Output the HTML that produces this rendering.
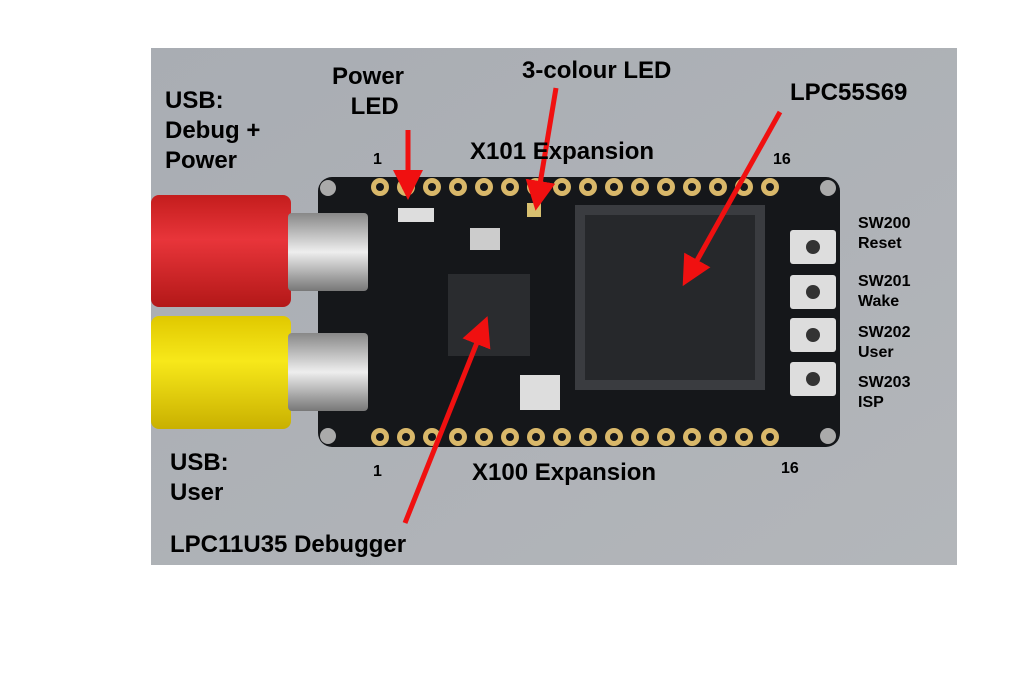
<!DOCTYPE html>
<html><head><style>
body{margin:0;width:1023px;height:691px;background:#fff;position:relative;overflow:hidden;font-family:"Liberation Sans",sans-serif}
.t{position:absolute;font-weight:bold;color:#000;line-height:1.25}
</style></head><body>
<svg width="1023" height="691" style="position:absolute;left:0;top:0">
<defs>
<linearGradient id="bg" x1="0" y1="0" x2="1" y2="1"><stop offset="0" stop-color="#a9adb3"/><stop offset="1" stop-color="#b3b6ba"/></linearGradient>
<linearGradient id="red" x1="0" y1="0" x2="0" y2="1"><stop offset="0" stop-color="#c41d1d"/><stop offset="0.4" stop-color="#e8353a"/><stop offset="1" stop-color="#b31818"/></linearGradient>
<linearGradient id="yel" x1="0" y1="0" x2="0" y2="1"><stop offset="0" stop-color="#e0c800"/><stop offset="0.4" stop-color="#f7e81a"/><stop offset="1" stop-color="#c9b000"/></linearGradient>
<linearGradient id="met" x1="0" y1="0" x2="0" y2="1"><stop offset="0" stop-color="#888"/><stop offset="0.5" stop-color="#eee"/><stop offset="1" stop-color="#777"/></linearGradient>
<marker id="ah" markerWidth="6" markerHeight="6" refX="3" refY="3" orient="auto"><path d="M0,0 L6,3 L0,6 Z" fill="#f01010"/></marker>
</defs>
<rect x="151" y="48" width="806" height="517" fill="url(#bg)"/>
<rect x="318" y="177" width="522" height="270" rx="14" fill="#15171a"/>
<circle cx="328" cy="188" r="8" fill="#aaa"/><circle cx="828" cy="188" r="8" fill="#aaa"/>
<circle cx="328" cy="436" r="8" fill="#aaa"/><circle cx="828" cy="436" r="8" fill="#aaa"/>
<g fill="#d9b86a">
<circle cx="380" cy="187" r="9"/><circle cx="406" cy="187" r="9"/><circle cx="432" cy="187" r="9"/><circle cx="458" cy="187" r="9"/><circle cx="484" cy="187" r="9"/><circle cx="510" cy="187" r="9"/><circle cx="536" cy="187" r="9"/><circle cx="562" cy="187" r="9"/><circle cx="588" cy="187" r="9"/><circle cx="614" cy="187" r="9"/><circle cx="640" cy="187" r="9"/><circle cx="666" cy="187" r="9"/><circle cx="692" cy="187" r="9"/><circle cx="718" cy="187" r="9"/><circle cx="744" cy="187" r="9"/><circle cx="770" cy="187" r="9"/>
<circle cx="380" cy="437" r="9"/><circle cx="406" cy="437" r="9"/><circle cx="432" cy="437" r="9"/><circle cx="458" cy="437" r="9"/><circle cx="484" cy="437" r="9"/><circle cx="510" cy="437" r="9"/><circle cx="536" cy="437" r="9"/><circle cx="562" cy="437" r="9"/><circle cx="588" cy="437" r="9"/><circle cx="614" cy="437" r="9"/><circle cx="640" cy="437" r="9"/><circle cx="666" cy="437" r="9"/><circle cx="692" cy="437" r="9"/><circle cx="718" cy="437" r="9"/><circle cx="744" cy="437" r="9"/><circle cx="770" cy="437" r="9"/>
</g>
<g fill="#15171a"><circle cx="380" cy="187" r="4"/><circle cx="406" cy="187" r="4"/><circle cx="432" cy="187" r="4"/><circle cx="458" cy="187" r="4"/><circle cx="484" cy="187" r="4"/><circle cx="510" cy="187" r="4"/><circle cx="536" cy="187" r="4"/><circle cx="562" cy="187" r="4"/><circle cx="588" cy="187" r="4"/><circle cx="614" cy="187" r="4"/><circle cx="640" cy="187" r="4"/><circle cx="666" cy="187" r="4"/><circle cx="692" cy="187" r="4"/><circle cx="718" cy="187" r="4"/><circle cx="744" cy="187" r="4"/><circle cx="770" cy="187" r="4"/>
<circle cx="380" cy="437" r="4"/><circle cx="406" cy="437" r="4"/><circle cx="432" cy="437" r="4"/><circle cx="458" cy="437" r="4"/><circle cx="484" cy="437" r="4"/><circle cx="510" cy="437" r="4"/><circle cx="536" cy="437" r="4"/><circle cx="562" cy="437" r="4"/><circle cx="588" cy="437" r="4"/><circle cx="614" cy="437" r="4"/><circle cx="640" cy="437" r="4"/><circle cx="666" cy="437" r="4"/><circle cx="692" cy="437" r="4"/><circle cx="718" cy="437" r="4"/><circle cx="744" cy="437" r="4"/><circle cx="770" cy="437" r="4"/></g>
<rect x="151" y="195" width="140" height="112" rx="8" fill="url(#red)"/>
<rect x="151" y="316" width="140" height="113" rx="8" fill="url(#yel)"/>
<rect x="288" y="213" width="80" height="78" rx="4" fill="url(#met)"/>
<rect x="288" y="333" width="80" height="78" rx="4" fill="url(#met)"/>
<rect x="448" y="274" width="82" height="82" fill="#2a2c2f"/>
<rect x="470" y="228" width="30" height="22" fill="#ccc"/>
<rect x="575" y="205" width="190" height="185" fill="#3a3c40"/>
<rect x="585" y="215" width="170" height="165" fill="#26282b"/>
<rect x="398" y="208" width="36" height="14" fill="#ddd"/>
<rect x="527" y="203" width="14" height="14" fill="#d8c070"/>
<rect x="520" y="375" width="40" height="35" fill="#ddd"/>
<g fill="#ddd"><rect x="790" y="230" width="46" height="34" rx="3"/><rect x="790" y="275" width="46" height="34" rx="3"/><rect x="790" y="318" width="46" height="34" rx="3"/><rect x="790" y="362" width="46" height="34" rx="3"/></g>
<g fill="#333"><circle cx="813" cy="247" r="7"/><circle cx="813" cy="292" r="7"/><circle cx="813" cy="335" r="7"/><circle cx="813" cy="379" r="7"/></g>
<g stroke="#f01010" stroke-width="5" fill="none" marker-end="url(#ah)">
<line x1="408" y1="130" x2="408" y2="185"/>
<line x1="556" y1="88" x2="538" y2="196"/>
<line x1="780" y1="112" x2="690" y2="273"/>
<line x1="405" y1="523" x2="482" y2="330"/>
</g>
</svg>
<div class="t" style="left:165px;top:86px;font-size:24px">USB:<br>Debug +<br>Power</div>
<div class="t" style="left:332px;top:62px;font-size:24px;text-align:center">Power<br>&nbsp;&nbsp;LED</div>
<div class="t" style="left:522px;top:56px;font-size:24px">3-colour LED</div>
<div class="t" style="left:470px;top:137px;font-size:24px">X101 Expansion</div>
<div class="t" style="left:790px;top:78px;font-size:24px">LPC55S69</div>
<div class="t" style="left:373px;top:150px;font-size:16px">1</div>
<div class="t" style="left:773px;top:150px;font-size:16px">16</div>
<div class="t" style="left:373px;top:462px;font-size:16px">1</div>
<div class="t" style="left:781px;top:459px;font-size:16px">16</div>
<div class="t" style="left:472px;top:458px;font-size:24px">X100 Expansion</div>
<div class="t" style="left:170px;top:448px;font-size:24px">USB:<br>User</div>
<div class="t" style="left:170px;top:530px;font-size:24px">LPC11U35 Debugger</div>
<div class="t" style="left:858px;top:214px;font-size:16px">SW200<br>Reset</div>
<div class="t" style="left:858px;top:272px;font-size:16px">SW201<br>Wake</div>
<div class="t" style="left:858px;top:323px;font-size:16px">SW202<br>User</div>
<div class="t" style="left:858px;top:373px;font-size:16px">SW203<br>ISP</div>
</body></html>
